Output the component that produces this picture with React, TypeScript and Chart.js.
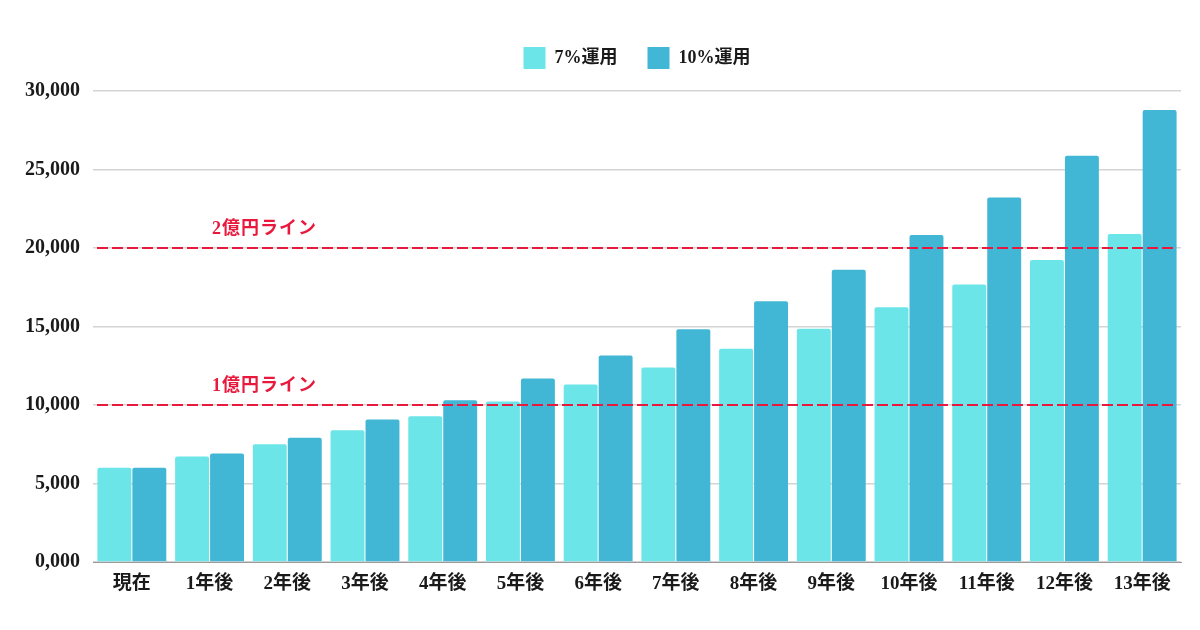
import React, { useEffect, useRef } from "react";
import { Chart, registerables } from "chart.js";

Chart.register(...registerables);

const categories = ["現在", "1年後", "2年後", "3年後", "4年後", "5年後", "6年後", "7年後", "8年後", "9年後", "10年後", "11年後", "12年後", "13年後"];
const series7 = [6000, 6720, 7500, 8390, 9280, 10230, 11300, 12390, 13580, 14850, 16230, 17670, 19240, 20890];
const series10 = [6000, 6910, 7920, 9070, 10300, 11680, 13160, 14830, 16610, 18620, 20830, 23220, 25870, 28790];
const seriesNames = ["7%運用", "10%運用"];
const thresholdValues = [10000, 20000];
const thresholdLabels = ["1億円ライン", "2億円ライン"];

const FONT = '"Liberation Serif", "Noto Sans CJK JP", serif';
const RED = "#e8193c";

const thresholdPlugin = {
  id: "thresholds",
  afterDatasetsDraw(chart: any) {
    const { ctx, chartArea, scales } = chart;
    const y = scales.y;
    ctx.save();
    thresholdValues.forEach((v, i) => {
      const py = Math.round(y.getPixelForValue(v));
      ctx.beginPath();
      ctx.setLineDash([11, 4]);
      ctx.lineWidth = 2;
      ctx.strokeStyle = RED;
      ctx.moveTo(chartArea.left + 4, py);
      ctx.lineTo(chartArea.right - 4, py);
      ctx.stroke();
      ctx.setLineDash([]);
      ctx.fillStyle = RED;
      ctx.font = `bold 18px ${FONT}`;
      try { (ctx as any).letterSpacing = "1px"; } catch (e) {}
      ctx.textAlign = "left";
      ctx.textBaseline = "alphabetic";
      ctx.fillText(thresholdLabels[i], 204, py - 14);
      try { (ctx as any).letterSpacing = "0px"; } catch (e) {}
    });
    ctx.restore();
  },
};

export default function App() {
  const ref = useRef<HTMLCanvasElement | null>(null);
  useEffect(() => {
    if (!ref.current) return;
    const chart = new Chart(ref.current, {
      type: "bar",
      data: {
        labels: categories,
        datasets: [
          {
            label: seriesNames[0],
            data: series7,
            backgroundColor: "#6ce5e8",
            borderRadius: 2,
            categoryPercentage: 0.9,
            barPercentage: 0.97,
          },
          {
            label: seriesNames[1],
            data: series10,
            backgroundColor: "#42b7d5",
            borderRadius: 2,
            categoryPercentage: 0.9,
            barPercentage: 0.97,
          },
        ],
      },
      options: {
        responsive: false,
        animation: false,
        layout: { padding: { top: 9, right: 11, bottom: 20, left: 0 } },
        plugins: {
          legend: {
            position: "top",
            fullSize: false,
            labels: {
              boxWidth: 22,
              boxHeight: 22,
              padding: 30,
              color: "#1a1a1a",
              font: { family: FONT, size: 18, weight: "bold" },
            },
          },
          tooltip: { enabled: false },
        },
        scales: {
          x: {
            grid: { display: false, drawTicks: false },
            border: { display: true, color: "#9a9a9a", width: 1 },
            ticks: {
              color: "#1a1a1a",
              padding: 11,
              font: { family: FONT, size: 19, weight: "bold" },
            },
            afterFit(scale: any) {
              scale.height = 40;
            },
          },
          spacer: {
            type: "category",
            position: "top",
            display: true,
            grid: { display: false, drawTicks: false },
            border: { display: false },
            ticks: { display: false },
            afterFit(scale: any) {
              scale.height = 12;
            },
          },
          y: {
            min: 0,
            max: 30000,
            ticks: {
              stepSize: 5000,
              padding: 13,
              color: "#1a1a1a",
              font: { family: FONT, size: 20, weight: "bold" },
              callback: (v: any) => (v === 0 ? "0,000" : Number(v).toLocaleString("en-US")),
            },
            grid: { color: "#d4d4d4", lineWidth: 1.5, drawTicks: false },
            border: { display: false },
            afterFit(scale: any) {
              scale.width = 85;
            },
          },
        },
      },
      plugins: [thresholdPlugin],
    });
    return () => chart.destroy();
  }, []);
  return (
    <div style={{ width: 1184, height: 614 }}>
      <canvas ref={ref} width={1184} height={614} />
    </div>
  );
}
